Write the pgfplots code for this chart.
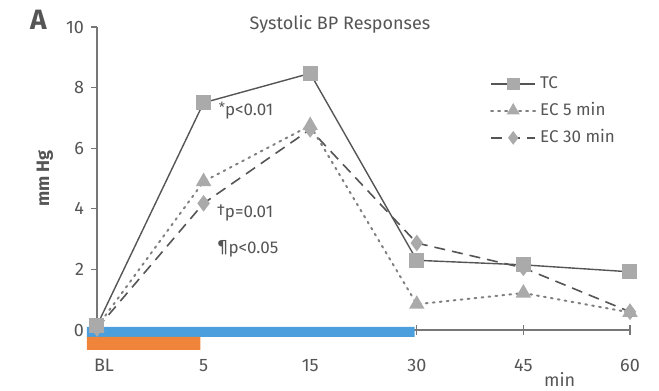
\documentclass[border=0pt]{standalone}
\usepackage{pgfplots}
\pgfplotsset{compat=1.18}
\usepackage{pgfplotstable}
\usepackage{fontspec}
\setmainfont{Fira Sans}
\definecolor{txt}{HTML}{555555}
\definecolor{axgray}{HTML}{777777}
\definecolor{mk}{HTML}{AAAAAA}
\definecolor{ln}{HTML}{555555}
\definecolor{dotc}{HTML}{808080}
\definecolor{barblue}{HTML}{4A9FDC}
\definecolor{barorange}{HTML}{F0843A}
\pgfplotstableread{
x TC EC5 EC30
0 0.15 0.10 0.05
1 7.50 4.90 4.18
2 8.47 6.75 6.62
3 2.30 0.85 2.87
4 2.15 1.22 2.05
5 1.92 0.58 0.60
}\data
\begin{document}
\begin{tikzpicture}
\useasboundingbox (-48.5pt,-30.5pt) rectangle (281pt,165pt);
\begin{axis}[
  at={(0,0)}, anchor=south west,
  scale only axis, width=266.5pt, height=151.5pt,
  xmin=0, xmax=5, ymin=0, ymax=10,
  clip=false,
  axis x line*=bottom, axis y line*=left,
  axis line style={axgray, line width=0.6pt},
  every tick/.style={axgray, line width=0.6pt},
  xtick={0,1,2,3,4,5},
  xticklabels={\kern7pt BL,5,15,30,45,60},
  x tick style={draw=none},
  extra x ticks={3,4,5},
  extra x tick labels={},
  extra x tick style={tick align=center, major tick length=5pt, x tick style={draw=axgray}},
  xticklabel style={anchor=north, yshift=-8pt, font=\fontsize{9}{10}\selectfont, text=txt},
  ytick={0,2,4,6,8,10},
  tick align=outside, major tick length=3pt,
  yticklabel style={font=\fontsize{9}{10}\selectfont, text=txt},
  /pgf/number format/assume math mode=true,
  legend style={at={(0.737,0.851)}, anchor=north west, draw=none, fill=none,
    font=\fontsize{8.5}{10}\selectfont, text=txt, row sep=1.5pt, inner sep=0pt},
  legend cell align=left,
  reverse legend,
  legend image code/.code={
    \draw[#1, mark=none] (0pt,0pt) -- (22pt,0pt);
    \draw[#1, draw=none, only marks, mark size=2.8pt] plot coordinates {(11pt,0pt)};
  },
]
% bars
\addplot[fill=barblue, draw=none, forget plot] coordinates {(-0.094,0.1) (2.98,0.1) (2.98,-0.23) (-0.094,-0.23) (-0.094,0.1)};
\addplot[fill=barorange, draw=none, forget plot] coordinates {(-0.094,-0.23) (0.97,-0.23) (0.97,-0.66) (-0.094,-0.66) (-0.094,-0.23)};
% series (drawn back to front; legend reversed)
\addplot[ln, line width=0.8pt, dash pattern=on 5.5pt off 3.5pt, mark=diamond*, mark size=3.5pt, mark options={solid, fill=mk, draw=mk}] table[x=x, y=EC30] {\data};
\addlegendentry{EC 30 min}
\addplot[dotc, line width=1pt, dash pattern=on 0.9pt off 2.6pt, line cap=round, mark=triangle*, mark size=3.5pt, mark options={solid, fill=mk, draw=mk}] table[x=x, y=EC5] {\data};
\addlegendentry{EC 5 min}
\addplot[ln, line width=0.7pt, mark=square*, mark size=3.4pt, mark options={solid, fill=mk, draw=mk}] table[x=x, y=TC] {\data};
\addlegendentry{TC}
% annotations
\node[anchor=west, text=txt, font=\fontsize{8.5}{10}\selectfont, inner sep=0pt] at (axis cs:1.14,7.25) {\raisebox{0.35ex}{\scriptsize *}p<0.01};
\node[anchor=west, text=txt, font=\fontsize{8.5}{10}\selectfont, inner sep=0pt] at (axis cs:1.12,3.87) {\raisebox{0.2ex}{\footnotesize †}p=0.01};
\node[anchor=west, text=txt, font=\fontsize{8.5}{10}\selectfont, inner sep=0pt] at (axis cs:1.12,2.68) {\raisebox{0.2ex}{\footnotesize ¶}p<0.05};
% texts
\node[text=txt, font=\fontsize{9}{10}\selectfont] at (axis cs:2.28,10.1) {Systolic BP Responses};
\node[text=txt, font=\fontsize{9}{10}\selectfont\bfseries, rotate=90] at (axis cs:-0.49,5.0) {mm Hg};
\node[text=txt, font=\fontsize{9}{10}\selectfont] at (axis cs:4.34,-1.62) {min};
\node[text=txt, font=\fontsize{14}{16}\selectfont\bfseries] at (axis cs:-0.55,10.25) {A};
\end{axis}
\end{tikzpicture}
\end{document}
